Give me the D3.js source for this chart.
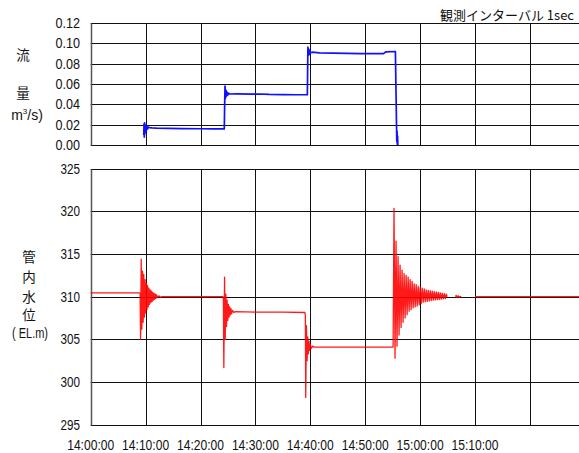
<!DOCTYPE html>
<html><head><meta charset="utf-8">
<script src="https://cdn.jsdelivr.net/npm/d3@7/dist/d3.min.js"></script>
<style>
html,body{margin:0;padding:0;background:#fff;}
svg{display:block;}
.num{font-family:"Liberation Sans",Arial,sans-serif;font-size:14px;fill:#111;}
.jp{font-family:"Noto Sans CJK JP","Noto Sans CJK SC",sans-serif;font-size:13.5px;fill:#111;}
</style></head>
<body>
<script>
// ---- data (time in seconds after 14:00:00) ----
const xTickSeconds = [0, 600, 1200, 1800, 2400, 3000, 3600, 4200, 4800];
const xTickLabels = ["14:00:00","14:10:00","14:20:00","14:30:00","14:40:00","14:50:00","15:00:00","15:10:00",""];
const flowTicks = [0, 0.02, 0.04, 0.06, 0.08, 0.10, 0.12];
const levelTicks = [295, 300, 305, 310, 315, 320, 325];

// flow rate m3/s
const flowData = [
 [580,0.010],[583,0.021],[586,0.008],[589,0.022],[592,0.011],[596,0.020],[600,0.013],[605,0.019],[610,0.015],[616,0.0185],
 [622,0.016],[630,0.0178],[645,0.0172],[670,0.0170],[720,0.0168],[850,0.0166],[1000,0.0163],[1200,0.0162],[1350,0.016],[1460,0.016],
 [1464,0.040],[1468,0.058],[1473,0.046],[1478,0.054],[1484,0.048],[1490,0.052],[1497,0.049],[1505,0.051],[1520,0.0502],[1600,0.0503],
 [1750,0.0500],[1850,0.0502],[1950,0.0498],[2100,0.0496],[2250,0.0495],[2368,0.0495],
 [2371,0.075],[2374,0.096],[2379,0.088],[2385,0.094],[2391,0.089],[2398,0.092],[2406,0.0905],[2420,0.0912],[2500,0.0905],[2650,0.0903],
 [2800,0.0900],[2950,0.0898],[3100,0.0897],[3200,0.0897],[3225,0.0915],[3330,0.0918],[3345,0.004],[3348,0.014],[3351,0.001],[3354,0.009],[3357,0.0]
];

// water level in pipe (EL.m); null = no data
const levelData = [
 [0,310.45],[530,310.45],[540,310.4],[545,305.0],[552,314.4],[559,306.2],[566,313.0],[573,307.0],[580,312.6],[587,307.6],[594,312.0],
 [601,308.1],[608,311.6],[615,308.5],[622,311.3],[629,308.8],[636,311.0],[643,309.1],[650,310.8],[657,309.3],[664,310.65],[671,309.45],
 [678,310.5],[685,309.6],[692,310.4],[699,309.7],[706,310.3],[713,309.8],[720,310.2],[730,309.9],[745,310.1],[760,309.95],[780,310.0],[1445,310.0],
 [1450,309.8],[1455,301.7],[1463,312.3],[1470,305.0],[1477,310.3],[1484,306.5],[1491,309.6],[1498,307.2],[1505,309.1],[1512,307.6],
 [1519,308.8],[1526,307.85],[1533,308.6],[1540,308.0],[1550,308.4],[1565,308.15],[1580,308.25],[1800,308.2],[2100,308.2],[2340,308.15],
 [2346,307.8],[2350,298.2],[2358,306.6],[2365,302.5],[2372,305.3],[2379,303.3],[2386,304.8],[2393,303.7],[2400,304.4],[2410,303.95],
 [2425,304.2],[2445,304.1],[3000,304.1],[3305,304.1],
 [3315,320.35],[3326,302.8],[3337,316.5],[3348,304.2],[3359,314.7],[3370,305.5],[3381,313.7],[3392,306.4],[3403,313.1],[3414,307.0],
 [3425,312.7],[3436,307.5],[3447,312.5],[3458,307.9],[3469,312.3],[3480,308.3],[3491,312.0],[3502,308.5],[3513,311.8],[3524,308.7],
 [3535,311.5],[3546,308.8],[3557,311.4],[3568,308.9],[3579,311.2],[3590,309.05],[3601,311.1],[3612,309.2],[3623,311.0],[3634,309.35],
 [3645,310.9],[3656,309.4],[3667,310.8],[3678,309.45],[3689,310.75],[3700,309.5],[3711,310.7],[3722,309.55],[3733,310.65],[3744,309.6],
 [3755,310.6],[3766,309.62],[3777,310.55],[3788,309.65],[3799,310.5],[3810,309.68],[3821,310.45],[3832,309.72],[3843,310.4],[3854,309.75],
 [3865,310.35],[3876,309.78],[3887,310.3],[3895,310.0],[3900,null],
 [3985,310.0],[3995,310.15],[4005,309.9],[4015,310.1],[4030,309.95],[4050,310.05],[4060,null],
 [4200,310.0],[5400,310.0]
];

// ---- drawing ----
const W = 579, H = 453;
const svg = d3.select("body").append("svg").attr("width", W).attr("height", H);

const x = d3.scaleLinear().domain([0, 5400]).range([90.7, 90.7 + 54.9 * 9]);
const yTop = d3.scaleLinear().domain([0, 0.12]).range([145.3, 22.7]);
const yBot = d3.scaleLinear().domain([295, 325]).range([424.7, 168.7]);
const r = v => Math.round(v) + 0.5;

function grid(yScale, ticks, fmt) {
  const [y0, y1] = yScale.range();
  const g = svg.append("g");
  g.selectAll("line.h").data(ticks).enter().append("line")
    .attr("x1", x(0)).attr("x2", W)
    .attr("y1", d => r(yScale(d))).attr("y2", d => r(yScale(d)))
    .attr("stroke", "#111").attr("stroke-width", 1);
  g.selectAll("line.v").data(xTickSeconds.slice(1)).enter().append("line")
    .attr("x1", d => r(x(d))).attr("x2", d => r(x(d)))
    .attr("y1", r(y1)).attr("y2", r(y0))
    .attr("stroke", "#111").attr("stroke-width", 1);
  g.append("line").attr("x1", r(x(0))).attr("x2", r(x(0)))
    .attr("y1", r(y1)).attr("y2", r(y0)).attr("stroke", "#555").attr("stroke-width", 1.5);
  g.selectAll("text").data(ticks).enter().append("text")
    .attr("class", "num").attr("x", 80).attr("y", d => yScale(d) + 5)
    .attr("text-anchor", "end")
    .attr("textLength", d => fmt(d).length === 4 ? 24.5 : 19.5)
    .attr("lengthAdjust", "spacingAndGlyphs")
    .text(fmt);
}
grid(yTop, flowTicks, d => d3.format(".2f")(d));
grid(yBot, levelTicks, d => d3.format("d")(d));

// x tick labels
svg.append("g").selectAll("text").data(xTickSeconds.filter((d, i) => xTickLabels[i])).enter()
  .append("text").attr("class", "num")
  .attr("x", d => x(d)).attr("y", 450).attr("text-anchor", "middle")
  .attr("textLength", 47).attr("lengthAdjust", "spacingAndGlyphs")
  .text((d, i) => xTickLabels[i]);

// series
const flowLine = d3.line().x(d => x(d[0])).y(d => yTop(d[1]));
svg.append("path").datum(flowData).attr("d", flowLine)
  .attr("fill", "none").attr("stroke", "#1010ff").attr("stroke-width", 1.7).attr("stroke-linejoin", "round");

const levelLine = d3.line().defined(d => d[1] != null).x(d => x(d[0])).y(d => yBot(d[1]));
svg.append("path").datum(levelData).attr("d", levelLine)
  .attr("fill", "none").attr("stroke", "#ff0000").attr("stroke-width", 1.3).attr("stroke-opacity", 0.9)
  .attr("stroke-linejoin", "round");

// axis titles
const jp = (t, px, py) => svg.append("text").attr("class", "jp").attr("x", px).attr("y", py).attr("text-anchor", "middle").text(t);
jp("流", 23, 60);
jp("量", 23, 98);
const unit = svg.append("text").attr("class", "num").attr("x", 27).attr("y", 120).attr("text-anchor", "middle");
unit.append("tspan").text("m");
unit.append("tspan").attr("font-size", "8px").attr("dy", -6).text("3");
unit.append("tspan").attr("dy", 6).text("/s)");
jp("管", 29, 262);
jp("内", 29, 282);
jp("水", 29, 302);
jp("位", 29, 320);
svg.append("text").attr("class", "num").attr("x", 30).attr("y", 338).attr("text-anchor", "middle")
  .attr("textLength", 36).attr("lengthAdjust", "spacingAndGlyphs").text("( EL.m)");

svg.append("text").attr("class", "jp").attr("x", 574).attr("y", 20).attr("text-anchor", "end")
  .style("font-size", "13px").text("観測インターバル 1sec");
</script>
</body></html>
